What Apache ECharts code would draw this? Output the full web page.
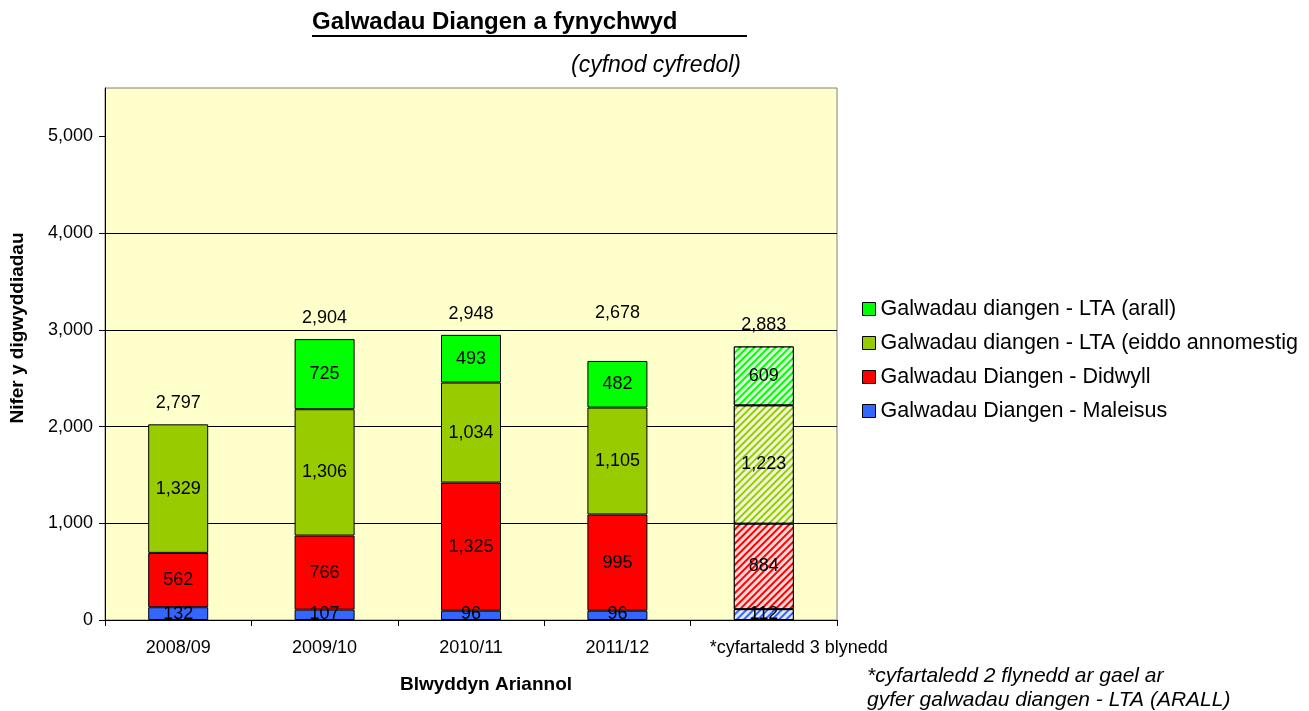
<!DOCTYPE html>
<html>
<head>
<meta charset="utf-8">
<script src="https://cdn.jsdelivr.net/npm/echarts@6/dist/echarts.min.js"></script>
<style>
  html, body { margin: 0; padding: 0; background: #fff; }
  #chart { width: 1309px; height: 711px; }
</style>
</head>
<body>
<div id="chart"></div>
<script>
// data
var categories = ["2008/09", "2009/10", "2010/11", "2011/12", "*cyfartaledd 3 blynedd"];
var maleisus = [132, 107, 96, 96, 112];
var didwyll = [562, 766, 1325, 995, 884];
var ltaEiddo = [1329, 1306, 1034, 1105, 1223];
var ltaArall = [null, 725, 493, 482, 609];
var totals = [2797, 2904, 2948, 2678, 2883];
var yTicks = [0, 1000, 2000, 3000, 4000, 5000];

// legend text is cut short in the original
var seriesNames = [
  "Galwadau Diangen - Maleisus",
  "Galwadau Diangen - Didwyll",
  "Galwadau diangen - LTA (eiddo annomestig",
  "Galwadau diangen - LTA (arall)"
];
var colors = ["#3366FF", "#FF0000", "#99CC00", "#00FF00"];

var font = "Arial, 'Liberation Sans', sans-serif";

// striped fill for the average bar
var hatch = {
  symbol: "rect",
  dashArrayX: [1, 0],
  dashArrayY: [2.5, 2],
  rotation: -Math.PI / 4,
  color: "rgba(255,255,255,0.85)"
};

function makeData(arr) {
  return arr.map(function (v, i) {
    if (i === arr.length - 1) {
      return { value: v, itemStyle: { decal: hatch } };
    }
    return v;
  });
}

function fmt(v) { return v.toLocaleString("en-GB"); }

var series = [maleisus, didwyll, ltaEiddo, ltaArall].map(function (arr, k) {
  return {
    name: seriesNames[k],
    type: "bar",
    stack: "all",
    barWidth: 60,
    data: makeData(arr),
    itemStyle: { color: colors[k], borderColor: "#000", borderWidth: 1 },
    label: {
      show: true,
      position: k === 0 ? "insideBottom" : "inside",
      distance: k === 0 ? -3 : 5,
      color: "#000",
      fontFamily: font,
      fontSize: 18,
      formatter: function (p) { return p.value == null ? "" : fmt(p.value); }
    },
    emphasis: { disabled: true }
  };
});

// totals sit on top of each stack (the 2011/12 one floats higher in the original)
series.push({
  name: "Cyfanswm",
  type: "bar",
  stack: "all",
  barWidth: 60,
  data: totals.map(function (t, i) {
    return i === 3 ? { value: 0, label: { distance: 39 } } : 0;
  }),
  itemStyle: { color: "transparent", borderWidth: 0 },
  label: {
    show: true,
    position: "top",
    distance: 12,
    color: "#000",
    fontFamily: font,
    fontSize: 18,
    formatter: function (p) { return fmt(totals[p.dataIndex]); }
  },
  emphasis: { disabled: true }
});

var chart = echarts.init(document.getElementById("chart"));
chart.setOption({
  animation: false,
  backgroundColor: "#fff",
  aria: { enabled: false },
  grid: {
    left: 105, right: 472, top: 88, bottom: 91,
    show: true, backgroundColor: "#FFFFCC", borderColor: "#808080", borderWidth: 1
  },
  legend: {
    data: seriesNames.slice().reverse(),
    orient: "vertical",
    left: 857,
    top: 293,
    itemGap: 12,
    itemWidth: 13,
    itemHeight: 13,
    icon: "rect",
    itemStyle: { borderColor: "#000", borderWidth: 1, decal: "none" },
    textStyle: { fontFamily: font, fontSize: 21.5, color: "#000" },
    selectedMode: false
  },
  xAxis: {
    type: "category",
    data: categories.map(function (c, i) {
      return i === categories.length - 1 ? { value: c, textStyle: { padding: [0, 0, 0, 70] } } : c;
    }),
    axisLine: { lineStyle: { color: "#000" } },
    axisTick: { show: true, length: 6, lineStyle: { color: "#000" } },
    axisLabel: { interval: 0, color: "#000", fontFamily: font, fontSize: 18, margin: 19 },
    name: "Blwyddyn Ariannol",
    nameLocation: "middle",
    nameGap: 55,
    nameTextStyle: { color: "#000", fontFamily: font, fontSize: 19, fontWeight: "bold", padding: [0, 0, 0, 30] }
  },
  yAxis: {
    type: "value",
    min: yTicks[0],
    max: 5500,
    interval: yTicks[1] - yTicks[0],
    axisLine: { show: true, lineStyle: { color: "#000" } },
    axisTick: { show: true, length: 6, lineStyle: { color: "#000" }, customValues: yTicks },
    axisLabel: {
      color: "#000", fontFamily: font, fontSize: 18, margin: 12,
      customValues: yTicks,
      formatter: fmt
    },
    splitLine: { show: true, showMaxLine: false, lineStyle: { color: "#000", width: 1 } }
  },
  series: series,
  graphic: [
    {
      type: "text", x: 18, y: 328, rotation: Math.PI / 2,
      style: {
        text: "Nifer y digwyddiadau", font: "bold 19px " + font, fill: "#000",
        align: "center", verticalAlign: "middle"
      }
    },
    {
      type: "text", left: 312, top: 10,
      style: { text: "Galwadau Diangen a fynychwyd", font: "bold 24px " + font, fill: "#000" }
    },
    {
      type: "line", shape: { x1: 312, y1: 36, x2: 747, y2: 36 },
      style: { stroke: "#000", lineWidth: 2 }
    },
    {
      type: "text", right: 1309 - 741, top: 54,
      style: { text: "(cyfnod cyfredol)", font: "italic 23px " + font, fill: "#000" }
    },
    {
      type: "text", left: 867, top: 664,
      style: {
        text: "*cyfartaledd 2 flynedd ar gael ar\ngyfer galwadau diangen - LTA (ARALL)",
        font: "italic 21px " + font, fill: "#000", lineHeight: 24
      }
    }
  ]
});
</script>
</body>
</html>
